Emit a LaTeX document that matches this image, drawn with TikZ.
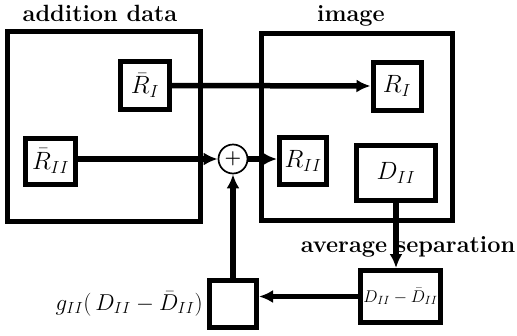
\RequirePackage{fix-cm}
\documentclass[tikz,border=0pt]{standalone}
\usepackage{amsmath}
\usetikzlibrary{arrows.meta}

\begin{document}
\begin{tikzpicture}[x=1pt, y=-1pt,
  >={Latex[length=14pt, width=13pt]},
  bigbox/.style={draw, line width=5pt, inner sep=0pt},
  databox/.style={draw, line width=5pt, inner sep=0pt,
    font=\fontsize{25}{30}\selectfont},
  heading/.style={font=\fontsize{23.5}{28}\bfseries\selectfont, anchor=base},
  flow/.style={->, line width=5.5pt}]
  \useasboundingbox (0,0) rectangle (517,335);
  % the two frames
  \node[bigbox, minimum width=193pt, minimum height=190pt] (addbox) at (104,126.5) {};
  \node[bigbox, minimum width=191pt, minimum height=187pt] (imgbox) at (356.5,126.5) {};
  \node[heading] (addlbl) at (100,21) {addition data};
  \node[heading] (imglbl) at (351,21) {image};
  % data blocks
  \node[databox, minimum width=49pt, minimum height=48pt] (rb1) at (145,85.5) {$\bar{R}_{I}$};
  \node[databox, minimum width=50pt, minimum height=46pt] (rb2) at (50.5,161) {$\bar{R}_{II}$};
  \node[databox, minimum width=48pt, minimum height=48pt] (r1) at (397,86) {$R_{I}$};
  \node[databox, minimum width=47pt, minimum height=47pt] (r2) at (303,161) {$R_{II}$};
  \node[databox, minimum width=79pt, minimum height=55pt] (dii) at (396,173) {$D_{II}$};
  \node[databox, minimum width=80pt, minimum height=52pt,
    font=\fontsize{17}{20}\selectfont] (dd) at (400.5,296.5) {$D_{II}-\bar{D}_{II}$};
  \node[databox, minimum width=47pt, minimum height=47pt] (gain) at (233,304) {};
  % adder
  \node[draw, circle, line width=1.7pt, minimum size=29pt, inner sep=0pt,
    font=\fontsize{19}{22}\bfseries\selectfont] (plus) at (233,159) {$\boldsymbol{+}$};
  \node[heading] (seplbl) at (408,252) {average separation};
  \node[anchor=east, inner sep=4pt, font=\fontsize{23}{27}\selectfont] (glbl)
    at (gain.west) {$g_{II}(\,D_{II}-\bar{D}_{II})$};
  % connectors
  \draw[flow] (rb1.east) -- (r1.west);
  \draw[flow] (rb2.east |- plus) -- (plus.west);
  \draw[flow] (plus.east) -- (plus.east -| r2.west);
  \draw[flow] (dii.south) -- (dii.south |- dd.north);
  \draw[flow] (dd.west) -- (dd.west -| gain.east);
  \draw[flow] (gain.north) -- (plus.south);
\end{tikzpicture}
\end{document}
